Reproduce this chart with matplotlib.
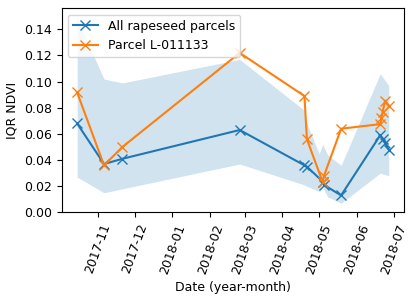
import matplotlib
matplotlib.use("Agg")
import matplotlib.pyplot as plt
import matplotlib.dates as mdates
import numpy as np
import pandas as pd

# All rapeseed parcels (median IQR NDVI)
all_dates = ["2017-10-15", "2017-11-06", "2017-11-21", "2018-02-25", "2018-04-19",
             "2018-04-21", "2018-05-04", "2018-05-05", "2018-05-19", "2018-06-20",
             "2018-06-22", "2018-06-24", "2018-06-27"]
all_values = [0.068, 0.037, 0.041, 0.063, 0.036, 0.035, 0.0235, 0.021, 0.013,
              0.059, 0.056, 0.053, 0.048]

# Parcel L-011133
parcel_dates = ["2017-10-15", "2017-11-06", "2017-11-21", "2018-02-25", "2018-04-19",
                "2018-04-21", "2018-05-04", "2018-05-05", "2018-05-19", "2018-06-20",
                "2018-06-21", "2018-06-22", "2018-06-24", "2018-06-27"]
parcel_values = [0.0917, 0.036, 0.050, 0.122, 0.089, 0.056, 0.023, 0.028, 0.064,
                 0.0675, 0.072, 0.077, 0.0855, 0.081]

# Spread band over all parcels
band_dates = ["2017-10-15", "2017-11-06", "2017-11-21", "2018-02-25", "2018-04-19",
              "2018-04-21", "2018-05-01", "2018-05-04", "2018-05-08", "2018-05-19",
              "2018-06-20", "2018-06-27"]
band_lower = [0.027, 0.015, 0.018, 0.037, 0.021, 0.020, 0.016, 0.019, 0.012, 0.007,
              0.030, 0.028]
band_upper = [0.148, 0.102, 0.099, 0.117, 0.078, 0.068, 0.045, 0.052, 0.044, 0.036,
              0.106, 0.097]

fig = plt.figure(figsize=(4.16, 3.0), dpi=100)
ax = fig.add_axes([0.148, 0.292, 0.824, 0.680])

fs = 9
ax.fill_between(pd.to_datetime(band_dates), band_lower, band_upper,
                color="C0", alpha=0.2, linewidth=0)
ax.plot(pd.to_datetime(all_dates), all_values, marker="x", color="C0",
        markersize=7, label="All rapeseed parcels")
ax.plot(pd.to_datetime(parcel_dates), parcel_values, marker="x", color="C1",
        markersize=7, label="Parcel L-011133")

ax.set_ylim(0, 0.156)
ax.set_yticks(np.arange(0, 0.141, 0.02))
ax.yaxis.set_major_formatter(matplotlib.ticker.FormatStrFormatter("%.2f"))
ax.xaxis.set_major_locator(mdates.MonthLocator())
ax.xaxis.set_major_formatter(mdates.DateFormatter("%Y-%m"))
for lab in ax.get_xticklabels():
    lab.set_rotation(70)
ax.tick_params(labelsize=fs)
ax.set_xlabel("Date (year-month)", fontsize=fs)
ax.set_ylabel("IQR NDVI", fontsize=fs)
ax.legend(loc="upper left", fontsize=fs)

fig.savefig("out.png", dpi=100)
